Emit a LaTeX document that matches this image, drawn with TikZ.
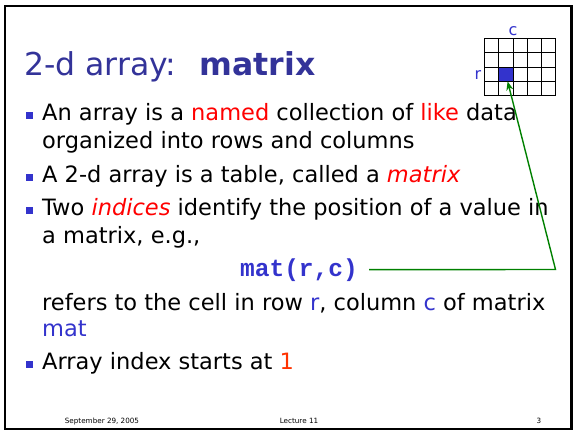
\documentclass[tikz,border=0pt]{standalone}
\usepackage{fontspec}
\setmainfont{DejaVu Sans}
\setmonofont{Liberation Mono}
\usetikzlibrary{arrows.meta}

\definecolor{titleblue}{HTML}{333399}
\definecolor{keyblue}{HTML}{3333CC}
\definecolor{hotred}{HTML}{FF0000}
\definecolor{onered}{HTML}{FF3300}
\definecolor{linkgreen}{HTML}{008000}

\begin{document}
\begin{tikzpicture}[x=1pt, y=-1pt]
    % --- 样式设置 ---
    \tikzstyle{body}=[anchor=base west, inner sep=0pt, font=\fontsize{22.5}{26}\selectfont]
    \tikzstyle{head}=[anchor=base west, inner sep=0pt, titleblue, font=\fontsize{31.5}{36}\selectfont]
    \tikzstyle{foot}=[anchor=base, inner sep=0pt, font=\fontsize{7.2}{9}\selectfont]
    \tikzstyle{bullet}=[fill=keyblue]
    \tikzstyle{link}=[-{Stealth[length=9pt, width=7pt]}, linkgreen, line width=1.4pt]

    \useasboundingbox (0,0) rectangle (574,432);

    % 1. 幻灯片边框
    \draw[line width=2.5pt] (5,6) rectangle (571.5,429);

    % 2. 标题
    \node[head] (title) at (24,75) {2-d array:};
    \node[head, font=\fontsize{31.5}{36}\selectfont\bfseries] (titlekey) at (199.5,75) {matrix};

    % 3. 小矩阵 (5 列 x 4 行), 标出 r 行 c 列
    \node[fill=keyblue, minimum size=14.3pt, inner sep=0pt] (cell) at (505.75,74.05) {};
    \foreach \i in {0,...,5}
        \draw[line width=0.8pt] (484.3+14.3*\i, 38.3) -- (484.3+14.3*\i, 95.5);
    \foreach \j in {0,...,4}
        \draw[line width=0.8pt] (484.3, 38.3+14.3*\j) -- (555.8, 38.3+14.3*\j);
    \node[keyblue, anchor=base, inner sep=0pt, font=\fontsize{16}{19}\selectfont] (clabel) at (513,35) {c};
    \node[keyblue, anchor=base east, inner sep=0pt, font=\fontsize{16}{19}\selectfont] (rlabel) at (481.5,79) {r};

    % 4. 项目符号
    \foreach \y in {120,182,215,369}
        \fill[bullet] (25.5,\y-8.5) rectangle (32.5,\y-1.5);

    % 5. 正文
    \node[body] (l1) at (42,120) {An array is a \textcolor{hotred}{named} collection of \textcolor{hotred}{like} data};
    \node[body] (l2) at (42,148) {organized into rows and columns};
    \node[body] (l3) at (42,182) {A 2-d array is a table, called a \textcolor{hotred}{\itshape matrix}};
    \node[body] (l4) at (42,215) {Two \textcolor{hotred}{\itshape indices} identify the position of a value in};
    \node[body] (l5) at (42,243) {a matrix, e.g.,};
    \node[anchor=base, inner sep=0pt, keyblue, font=\fontsize{24.5}{28}\selectfont\ttfamily\bfseries] (mat) at (299,276) {mat(r,c)};
    \node[body] (l6) at (42,310) {refers to the cell in row \textcolor{keyblue}{r}, column \textcolor{keyblue}{c} of matrix};
    \node[body, keyblue] (l7) at (42,336) {mat};
    \node[body] (l8) at (42,369) {Array index starts at \textcolor{onered}{1}};

    % 6. 绿色连线: mat(r,c) -> 蓝色格子
    \coordinate (bend) at (555.5,269.5);
    \draw[link] (mat.east) ++(11,0) -- (bend) -- (cell);

    % 7. 页脚
    \node[foot] (date) at (102,423) {September 29, 2005};
    \node[foot] (lecture) at (299,423) {Lecture 11};
    \node[foot] (page) at (539,423) {3};

\end{tikzpicture}
\end{document}
